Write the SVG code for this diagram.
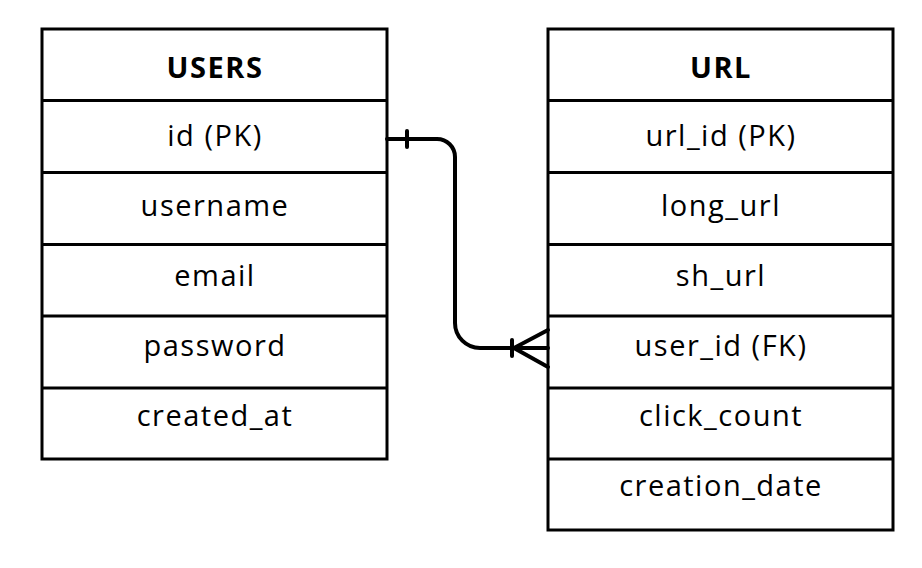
<svg xmlns="http://www.w3.org/2000/svg" width="922" height="568" viewBox="0 0 922 568">
<style>
.box{fill:#fff;stroke:#000;stroke-width:3}
.ln{stroke:#000;stroke-width:3}
.t{font-family:"Open Sans","Liberation Sans",sans-serif;font-size:29px;letter-spacing:1.5px;fill:#000;text-anchor:middle}
.h{font-weight:bold}
.c{fill:none;stroke:#000;stroke-width:4;stroke-linecap:round}
</style>
<rect width="922" height="568" fill="#fff"/>
<g id="users">
<rect class="box" x="42" y="29" width="345" height="430"/>
<line class="ln" x1="42" y1="100.5" x2="387" y2="100.5"/>
<line class="ln" x1="42" y1="172.5" x2="387" y2="172.5"/>
<line class="ln" x1="42" y1="244.5" x2="387" y2="244.5"/>
<line class="ln" x1="42" y1="316" x2="387" y2="316"/>
<line class="ln" x1="42" y1="388" x2="387" y2="388"/>
<text class="t h" x="215" y="78">USERS</text>
<text class="t" x="215" y="146">id (PK)</text>
<text class="t" x="215" y="216">username</text>
<text class="t" x="215" y="286">email</text>
<text class="t" x="215" y="356">password</text>
<text class="t" x="215" y="426">created_at</text>
</g>
<g id="url">
<rect class="box" x="548" y="29" width="345" height="501"/>
<line class="ln" x1="548" y1="100.5" x2="893" y2="100.5"/>
<line class="ln" x1="548" y1="172.5" x2="893" y2="172.5"/>
<line class="ln" x1="548" y1="244.5" x2="893" y2="244.5"/>
<line class="ln" x1="548" y1="316" x2="893" y2="316"/>
<line class="ln" x1="548" y1="388" x2="893" y2="388"/>
<line class="ln" x1="548" y1="459" x2="893" y2="459"/>
<text class="t h" x="721" y="78">URL</text>
<text class="t" x="721" y="146">url_id (PK)</text>
<text class="t" x="721" y="216">long_url</text>
<text class="t" x="721" y="286">sh_url</text>
<text class="t" x="721" y="356">user_id (FK)</text>
<text class="t" x="721" y="426">click_count</text>
<text class="t" x="721" y="496">creation_date</text>
</g>
<g id="connectors">
<path class="c" d="M387 139 H437 A18 18 0 0 1 455 157 V323 A25 25 0 0 0 480 348 H548"/>
<line class="c" x1="407" y1="131" x2="407" y2="147"/>
<line class="c" x1="512" y1="340" x2="512" y2="356"/>
<path class="c" d="M548 330 L514 348 L548 367"/>
</g>
</svg>
